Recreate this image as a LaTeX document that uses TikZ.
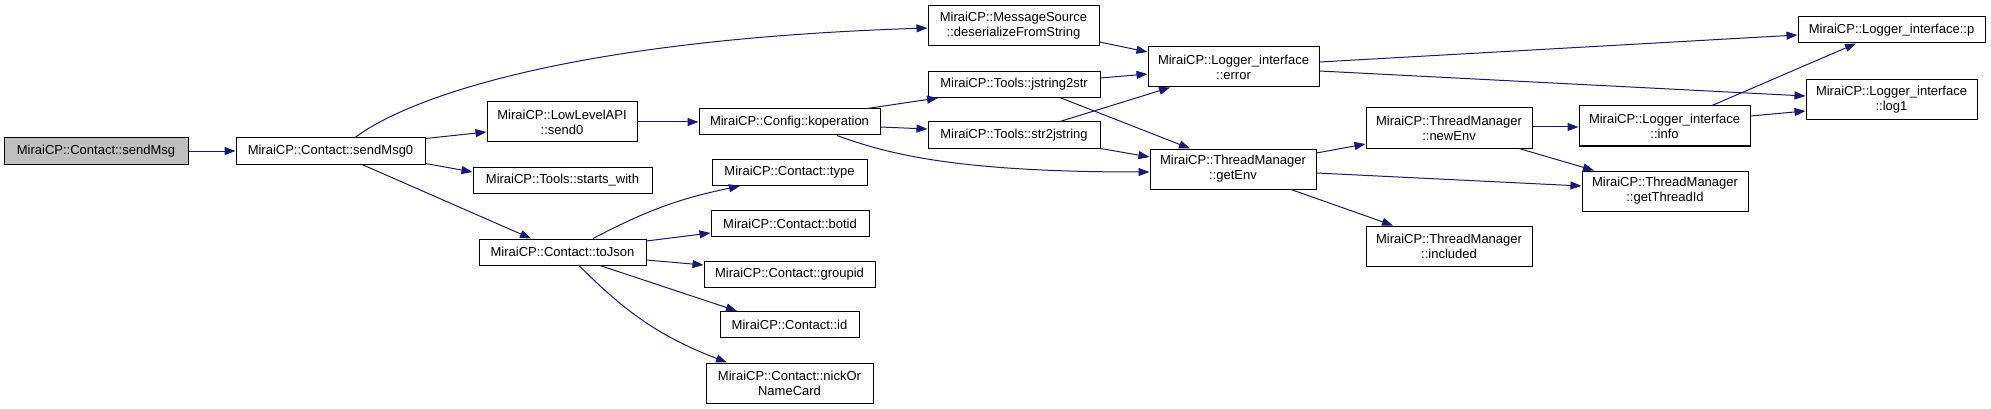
\documentclass[tikz,border=0pt]{standalone}
\usepackage{fontspec}
\setmainfont{Liberation Sans}
\usetikzlibrary{arrows.meta}
\definecolor{edgeblue}{HTML}{191970}
\definecolor{rootgray}{HTML}{BFBFBF}
\tikzset{
  fn/.style={draw=black, line width=1pt, fill=white, inner sep=0pt, align=center,
    font=\fontsize{13}{15}\selectfont, minimum height=26pt},
  fntwo/.style={fn, minimum height=40pt},
  edge/.style={draw=edgeblue, line width=1pt, -{Triangle[length=11pt,width=8pt]}, fill=none},
}
\begin{document}
\begin{tikzpicture}[x=1pt,y=-1pt]
\useasboundingbox (0,0) rectangle (1991,409);
% rank 0
\node[fn, fill=rootgray, minimum width=184pt] (sendMsg) at (96,151) {MiraiCP::Contact::sendMsg};
% rank 1
\node[fn, minimum width=189pt] (sendMsg0) at (330.5,151) {MiraiCP::Contact::sendMsg0};
% rank 2
\node[fntwo, minimum width=150pt] (send0) at (562,122) {MiraiCP::LowLevelAPI\\::send0};
\node[fn, minimum width=179pt] (startswith) at (562.5,180.5) {MiraiCP::Tools::starts\_with};
\node[fn, minimum width=167pt] (toJson) at (562.5,252) {MiraiCP::Contact::toJson};
% rank 3
\node[fn, minimum width=181pt] (koperation) at (789.5,122) {MiraiCP::Config::koperation};
\node[fn, minimum width=155pt] (type) at (789.5,172.5) {MiraiCP::Contact::type};
\node[fn, minimum width=158pt] (botid) at (790,223.5) {MiraiCP::Contact::botid};
\node[fn, minimum width=171pt] (groupid) at (789.5,274) {MiraiCP::Contact::groupid};
\node[fn, minimum width=139pt] (id) at (789.5,324.5) {MiraiCP::Contact::id};
\node[fntwo, minimum width=167pt] (nick) at (789.5,383) {MiraiCP::Contact::nickOr\\NameCard};
% rank 4
\node[fntwo, minimum width=171pt] (msgsrc) at (1013.5,26) {MiraiCP::MessageSource\\::deserializeFromString};
\node[fn, minimum width=172pt] (j2s) at (1014,84.5) {MiraiCP::Tools::jstring2str};
\node[fn, minimum width=172pt] (s2j) at (1014,135) {MiraiCP::Tools::str2jstring};
% rank 5
\node[fntwo, minimum width=171pt] (error) at (1233.5,67) {MiraiCP::Logger\_interface\\::error};
\node[fntwo, minimum width=166pt] (getEnv) at (1233,169) {MiraiCP::ThreadManager\\::getEnv};
% rank 6
\node[fntwo, minimum width=166pt] (newEnv) at (1449,128) {MiraiCP::ThreadManager\\::newEnv};
\node[fntwo, minimum width=166pt] (included) at (1449,246) {MiraiCP::ThreadManager\\::included};
% rank 7
\node[fntwo, minimum width=171pt] (info) at (1664.5,126) {MiraiCP::Logger\_interface\\::info};
\node[fntwo, minimum width=166pt] (tid) at (1665,191) {MiraiCP::ThreadManager\\::getThreadId};
% rank 8
\node[fn, minimum width=187pt] (p) at (1891.5,30) {MiraiCP::Logger\_interface::p};
\node[fntwo, minimum width=171pt] (log1) at (1891.5,100) {MiraiCP::Logger\_interface\\::log1};

% edges
\draw[edge] (sendMsg.east) -- (sendMsg0.west);
\draw[edge] ([xshift=24.5pt]sendMsg0.north) .. controls (405,100) and (560,40) .. ([yshift=-2pt]msgsrc.west);
\draw[edge] ([yshift=-1pt]sendMsg0.north east) -- ([yshift=-10pt]send0.west);
\draw[edge] ([yshift=1pt]sendMsg0.south east) -- ([yshift=8.5pt]startswith.west);
\draw[edge] ([xshift=31.5pt]sendMsg0.south) -- ([xshift=-31.5pt]toJson.north);
\draw[edge] (send0.east) -- (koperation.west);
\draw[edge] ([xshift=77.5pt]koperation.north) -- ([xshift=-76pt]j2s.south);
\draw[edge] ([yshift=-5pt]koperation.east) -- ([yshift=6pt]s2j.west);
\draw[edge] ([xshift=47.5pt]koperation.south) .. controls (890,155) and (960,172) .. ([yshift=-3pt]getEnv.west);
\draw[edge] ([yshift=-16pt]msgsrc.east) -- ([yshift=15pt]error.west);
\draw[edge] ([yshift=6.5pt]j2s.east) -- ([yshift=-7pt]error.west);
\draw[edge] ([xshift=47pt]j2s.south) -- ([xshift=-43pt]getEnv.north);
\draw[edge] ([xshift=46pt]s2j.north) -- ([xshift=-63.5pt]error.south);
\draw[edge] (s2j.south east) -- ([yshift=12pt]getEnv.west);
\draw[edge] ([yshift=5pt]error.east) -- ([yshift=-5pt]p.west);
\draw[edge] ([yshift=-4pt]error.east) -- ([yshift=4pt]log1.west);
\draw[edge] ([yshift=16pt]getEnv.east) -- ([yshift=-16pt]newEnv.west);
\draw[edge] ([yshift=-4pt]getEnv.east) -- ([yshift=5pt]tid.west);
\draw[edge] ([xshift=58pt]getEnv.south) -- ([xshift=-56pt]included.north);
\draw[edge] ([yshift=1pt]newEnv.east) -- ([yshift=-1pt]info.west);
\draw[edge] ([xshift=70pt]newEnv.south) -- ([xshift=-71pt]tid.north);
\draw[edge] ([xshift=47.5pt]info.north) -- ([xshift=-35.5pt]p.south);
\draw[edge] ([yshift=10pt]info.east) -- ([yshift=-11pt]log1.west);
\draw[edge] ([xshift=30.5pt]toJson.north) to[bend left=8] ([xshift=-49.5pt]type.south);
\draw[edge] ([yshift=11pt]toJson.east) -- ([yshift=-9.5pt]botid.west);
\draw[edge] ([yshift=-8pt]toJson.east) -- ([yshift=9pt]groupid.west);
\draw[edge] ([xshift=37.5pt]toJson.south) -- ([xshift=-52.5pt]id.north);
\draw[edge] ([xshift=16.5pt]toJson.south) to[bend right=12] ([xshift=-62.5pt]nick.north);
\end{tikzpicture}
\end{document}
